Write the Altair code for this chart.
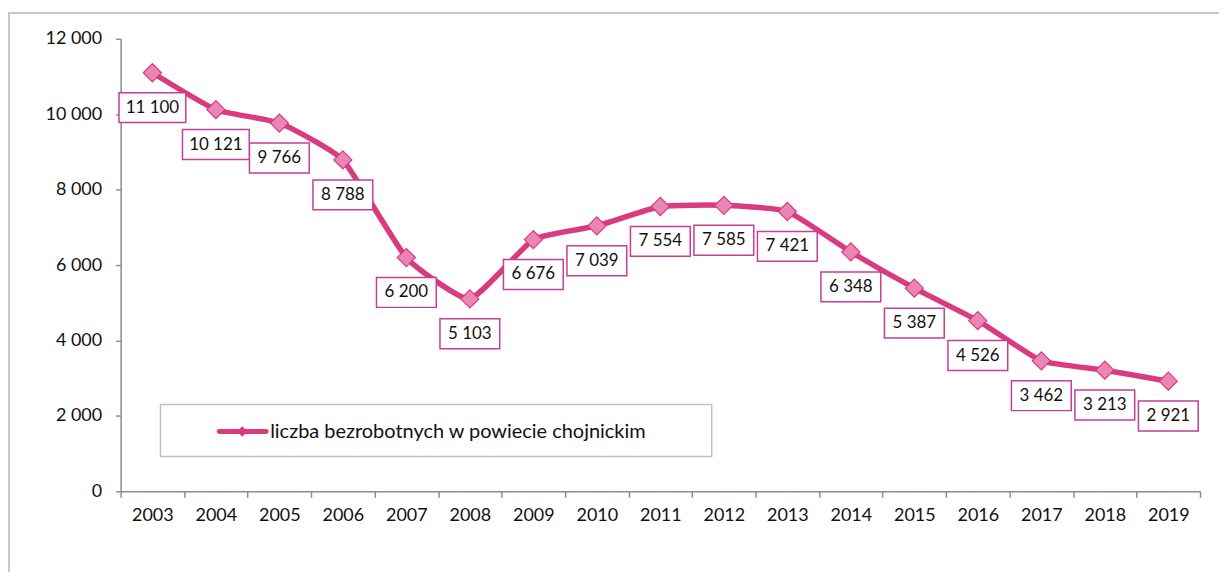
import altair as alt
import pandas as pd

years = [2003, 2004, 2005, 2006, 2007, 2008, 2009, 2010, 2011, 2012,
         2013, 2014, 2015, 2016, 2017, 2018, 2019]
values = [11100, 10121, 9766, 8788, 6200, 5103, 6676, 7039, 7554, 7585,
          7421, 6348, 5387, 4526, 3462, 3213, 2921]
series_name = "liczba bezrobotnych w powiecie chojnickim"
y_ticks = [0, 2000, 4000, 6000, 8000, 10000, 12000]

df = pd.DataFrame({"rok": [str(y) for y in years], "wartosc": values})
df["etykieta"] = [f"{v:,}".replace(",", " ") for v in values]
df["dlugie"] = df["etykieta"].str.len() > 5

LINE = "#d93a80"
MARK_FILL = "#ea86b4"
BOX = "#c43f97"
FONT = "Lato"

W, H = 1083, 454

x = alt.X("rok:O", title=None,
          scale=alt.Scale(type="band", paddingInner=0, paddingOuter=0),
          axis=alt.Axis(labelAngle=0, tickBand="extent", domainColor="#8c8c8c",
                        tickColor="#8c8c8c", tickSize=6, domainWidth=1.5, tickWidth=1.5,
                        labelFont=FONT, labelFontSize=18, labelColor="#111",
                        labelPadding=9))
y = alt.Y("wartosc:Q", title=None,
          scale=alt.Scale(domain=[0, 12000], nice=False),
          axis=alt.Axis(values=y_ticks, grid=False, domainColor="#8c8c8c",
                        tickColor="#8c8c8c", tickSize=5, domainWidth=1.5, tickWidth=1.5,
                        labelFont=FONT, labelFontSize=18, labelColor="#111",
                        labelPadding=14,
                        labelExpr="replace(format(datum.value, ','), ',', ' ')"))

base = alt.Chart(df)

line = base.mark_line(color=LINE, strokeWidth=5.5, interpolate="cardinal",
                      tension=0.55, strokeJoin="round").encode(x=x, y=y)
pts = base.mark_point(shape="diamond", size=330, filled=True, fill=MARK_FILL,
                      stroke=LINE, strokeWidth=1.2, opacity=1).encode(x=x, y=y)

box_short = base.transform_filter("!datum.dlugie").mark_point(
    shape="M-1,-0.5L1,-0.5L1,0.5L-1,0.5Z", size=60 * 60, filled=True,
    fill="white", stroke=BOX, strokeWidth=1.5, opacity=1, yOffset=35).encode(x=x, y=y)
box_long = base.transform_filter("datum.dlugie").mark_point(
    shape="M-1,-0.4478L1,-0.4478L1,0.4478L-1,0.4478Z", size=67 * 67, filled=True,
    fill="white", stroke=BOX, strokeWidth=1.5, opacity=1, yOffset=35).encode(x=x, y=y)
txt = base.mark_text(font=FONT, fontSize=17, color="#111", baseline="middle",
                     yOffset=35).encode(x=x, y=y, text="etykieta:N")

# outer chart frame (decoration)
frame = base.mark_rect(fill=None, stroke="#c8c8c8", strokeWidth=1.5).encode(
    x=alt.value(-112), x2=alt.value(1300), y=alt.value(-26), y2=alt.value(700))

# legend (drawn manually)
leg_df = pd.DataFrame({"nazwa": [series_name]})
leg = alt.Chart(leg_df)
leg_box = leg.mark_rect(fill="white", stroke="#c0c0c0", strokeWidth=1.5).encode(
    x=alt.value(40), x2=alt.value(593), y=alt.value(367), y2=alt.value(419))
leg_line = leg.mark_rule(color=LINE, strokeWidth=5, strokeCap="round").encode(
    x=alt.value(99), x2=alt.value(146), y=alt.value(394))
leg_pt = leg.mark_point(shape="diamond", size=110, filled=True, fill=LINE,
                        opacity=1).encode(x=alt.value(122), y=alt.value(394))
leg_txt = leg.mark_text(font=FONT, fontSize=20, color="#111", align="left",
                        baseline="middle").encode(x=alt.value(150), y=alt.value(394),
                                                  text="nazwa:N")

chart = alt.layer(frame, line, pts, box_short, box_long, txt,
                  leg_box, leg_line, leg_pt, leg_txt).properties(
    width=W, height=H,
    autosize=alt.AutoSizeParams(type="none"),
    padding={"left": 113, "top": 30, "right": 19, "bottom": 80},
    background="white",
).configure_view(stroke=None)

chart.save("out.html", embed_options={"renderer": "svg", "actions": False})
